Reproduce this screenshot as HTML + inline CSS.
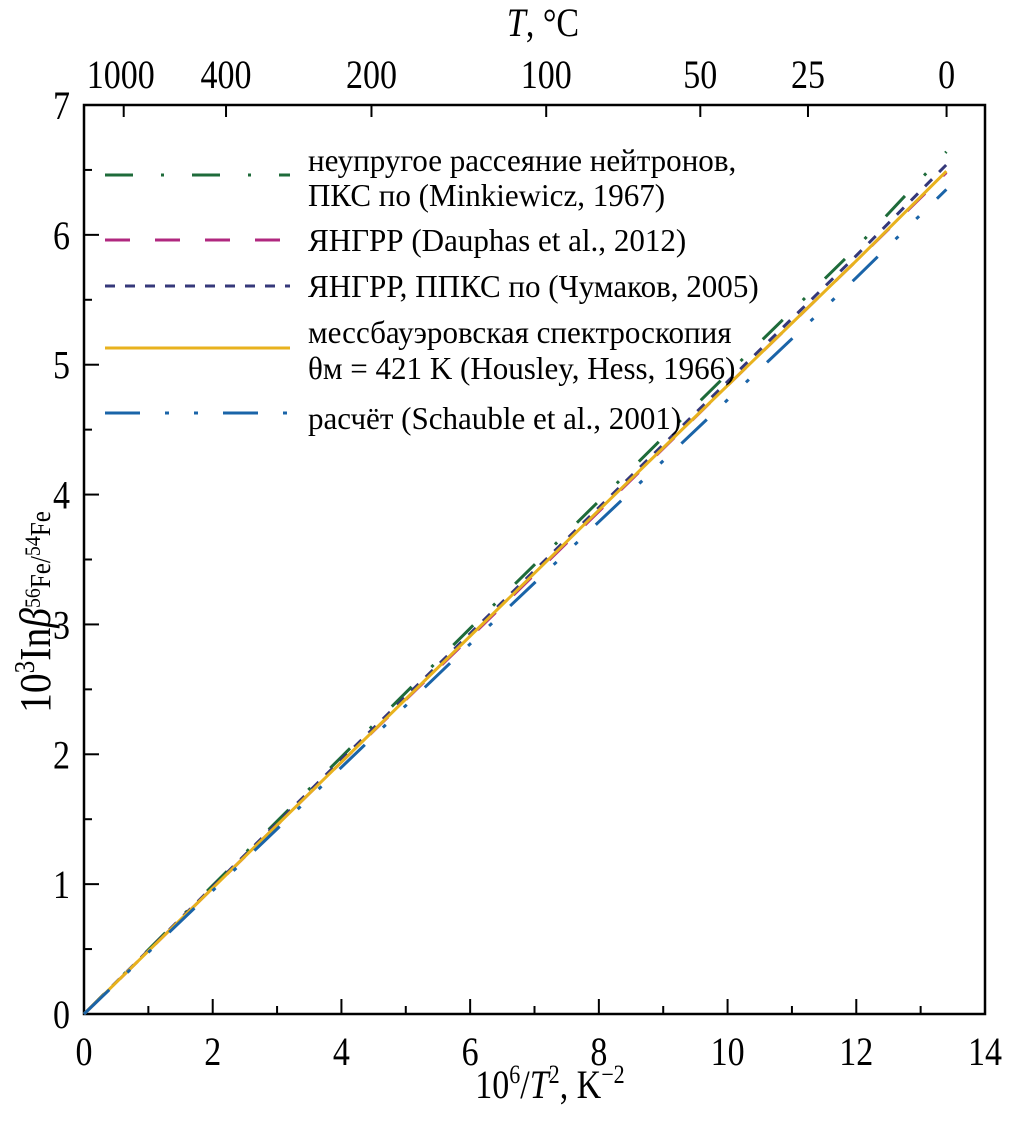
<!DOCTYPE html>
<html><head><meta charset="utf-8"><style>
body{margin:0;background:#fff}
svg{display:block}
text{font-family:"Liberation Serif",serif;fill:#000}
</style></head><body>
<svg id="c" width="1010" height="1135" viewBox="0 0 1010 1135"></svg>
<script>
const xs=[0,2,4,6,8,10,12,13.4];
const greenVals=[0,0.99,1.98,2.97,3.95,4.93,5.9,6.64];
const magentaVals=[0,0.97,1.94,2.9,3.87,4.84,5.8,6.48];
const purpleVals=[0,0.98,1.96,2.93,3.9,4.87,5.84,6.54];
const yellowVals=[0,0.97,1.94,2.91,3.88,4.84,5.8,6.49];
const blueVals=[0,0.95,1.9,2.85,3.79,4.73,5.67,6.35];
const xTicks=[0,2,4,6,8,10,12,14];
const yTicks=[0,1,2,3,4,5,6,7];
const topTempC=[1000,400,200,100,50,25,0];
const L=84,R=985,T=105,B=1014;
const X=v=>L+v*(R-L)/14, Y=v=>B-v*(B-T)/7;
const svg=document.getElementById('c');const NS='http://www.w3.org/2000/svg';
function mk(tag,a,p){const e=document.createElementNS(NS,tag);for(const k in a)e.setAttribute(k,a[k]);(p||svg).appendChild(e);return e;}
function txt(s,x,y,size,anchor,name,sx){const t=mk('text',{x:0,y:0,'font-size':size,'text-anchor':anchor||'middle',transform:'translate('+x+','+y+') scale('+(sx||0.85)+',1)'});t.textContent=s;


return t;}
const fr=mk('rect',{x:L,y:T,width:R-L,height:B-T,fill:'none',stroke:'#000','stroke-width':2.5});


for(let v=0;v<=14;v++){const l=mk('line',{x1:X(v),x2:X(v),y1:B,y2:B-(v%2?8:15),stroke:'#000','stroke-width':2});

}
xTicks.forEach(v=>txt(String(v),X(v),B+51,40,'middle','x-tick-label'));
for(let v=0;v<=7;v+=0.5){if(v===0||v===7)continue;const l=mk('line',{x1:L,x2:L+(v%1?8:15),y1:Y(v),y2:Y(v),stroke:'#000','stroke-width':2});

}
yTicks.forEach(v=>txt(String(v),L-14,Y(v)+14,40,'end','y-tick-label'));
topTempC.forEach(c=>{const k=c+273.15;const xv=1e6/(k*k);const l=mk('line',{x1:X(xv),x2:X(xv),y1:T,y2:T+12,stroke:'#000','stroke-width':2});


txt(String(c),X(xv)+(c===1000?-3:0),88,40,'middle','top-tick-label');});
const tt=mk('text',{x:0,y:0,'font-size':40,'text-anchor':'middle',transform:'translate(543,36) scale(0.85,1)'});tt.innerHTML='<tspan font-style="italic">T</tspan>, °C';


const bt=mk('text',{x:0,y:0,'font-size':40,'text-anchor':'middle',transform:'translate(550,1098) scale(0.85,1)'});bt.innerHTML='10<tspan dy="-15" font-size="26">6</tspan><tspan dy="15">/</tspan><tspan font-style="italic">T</tspan><tspan dy="-15" font-size="26">2</tspan><tspan dy="15">, K</tspan><tspan dy="-15" font-size="26">−2</tspan>';


const yt=mk('text',{x:0,y:0,'font-size':44,'text-anchor':'middle',transform:'translate(50,612) rotate(-90) scale(0.9,1)'});yt.innerHTML='10<tspan dy="-16" font-size="28">3</tspan><tspan dy="16">In</tspan><tspan font-style="italic">β</tspan><tspan dy="10" font-size="28"><tspan dy="-10" font-size="22">56</tspan><tspan dy="10">Fe/</tspan><tspan dy="-10" font-size="22">54</tspan><tspan dy="10">Fe</tspan></tspan>';


const series=[
 {n:'series-neutron-scattering',v:greenVals,c:'#1e6b3a',d:'28 28 3 28'},
 {n:'series-dauphas',v:magentaVals,c:'#b0287f',d:'25 25'},
 {n:'series-chumakov',v:purpleVals,c:'#35387a',d:'10 10'},
 {n:'series-mossbauer',v:yellowVals,c:'#e8b21e',d:''},
 {n:'series-schauble',v:blueVals,c:'#1a64a8',d:'35 25 4 25 4 25'}];
series.forEach(s=>{const p=mk('polyline',{points:xs.map((x,i)=>X(x)+','+Y(s.v[i])).join(' '),fill:'none',stroke:s.c,'stroke-width':3,'stroke-dasharray':s.d});

});
const leg=[
 {y:175,t:['неупругое рассеяние нейтронов,','ПКС по (Minkiewicz, 1967)'],ty:[171,206]},
 {y:240,t:['ЯНГРР (Dauphas et al., 2012)'],ty:[251]},
 {y:286,t:['ЯНГРР, ППКС по (Чумаков, 2005)'],ty:[297]},
 {y:348,t:['мессбауэровская спектроскопия','θм = 421 K (Housley, Hess, 1966)'],ty:[343,379]},
 {y:413,t:['расчёт (Schauble et al., 2001)'],ty:[429]}];
leg.forEach((e,i)=>{const s=series[i];const l=mk('line',{x1:105,x2:290,y1:e.y,y2:e.y,stroke:s.c,'stroke-width':3,'stroke-dasharray':s.d});


e.t.forEach((t,j)=>txt(t,308,e.ty[j],32,'start','legend-label',0.97));});
</script>
</body></html>
